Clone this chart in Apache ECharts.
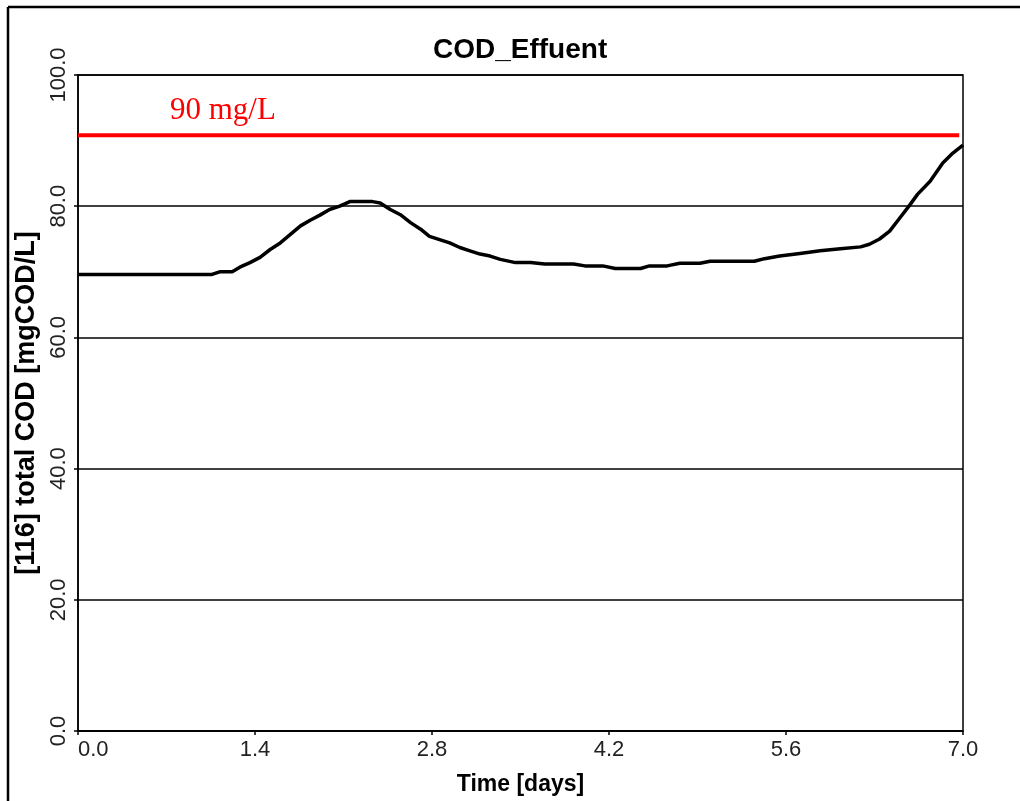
<!DOCTYPE html>
<html>
<head>
<meta charset="utf-8">
<script src="https://cdn.jsdelivr.net/npm/echarts@6/dist/echarts.min.js"></script>
<style>
  html, body { margin: 0; padding: 0; background: #fff; }
  #chart { width: 1020px; height: 801px; }
</style>
</head>
<body>
<div id="chart"></div>
<script>
// time in days, effluent COD in mgCOD/L
var timeDays = [0.00, 0.33, 0.65, 0.96, 1.06, 1.12, 1.22, 1.28, 1.36, 1.44, 1.52, 1.60, 1.68, 1.76, 1.84, 1.91, 1.99,
  2.07, 2.15, 2.23, 2.33, 2.39, 2.47, 2.55, 2.63, 2.71, 2.78, 2.86, 2.94, 3.02, 3.10, 3.18, 3.26, 3.34, 3.46, 3.58,
  3.69, 3.92, 4.01, 4.15, 4.25, 4.45, 4.52, 4.66, 4.76, 4.92, 5.00, 5.35, 5.43, 5.55, 5.71, 5.87, 6.03, 6.19, 6.26,
  6.34, 6.42, 6.50, 6.58, 6.64, 6.74, 6.84, 6.92, 7.00];
var codValues = [69.6, 69.6, 69.6, 69.6, 69.6, 70.0, 70.0, 70.7, 71.4, 72.2, 73.4, 74.4, 75.7, 77.0, 77.9, 78.6, 79.5,
  80.0, 80.7, 80.7, 80.7, 80.5, 79.5, 78.7, 77.5, 76.5, 75.4, 74.9, 74.4, 73.7, 73.2, 72.7, 72.4, 71.9, 71.4, 71.4,
  71.2, 71.2, 70.9, 70.9, 70.5, 70.5, 70.9, 70.9, 71.3, 71.3, 71.6, 71.6, 72.0, 72.4, 72.8, 73.2, 73.5, 73.8, 74.2,
  75.0, 76.2, 78.2, 80.2, 81.8, 83.8, 86.6, 88.1, 89.3];

// the red limit line
var limitTime = [0, 6.97];
var limitValue = [90.8, 90.8];
var limitLabel = '90 mg/L';

var chartTitle = 'COD_Effuent';
var xName = 'Time [days]';
var yName = '[116] total COD [mgCOD/L]';

function pairs(xs, ys) {
  var out = [];
  for (var i = 0; i < xs.length; i++) out.push([xs[i], ys[i]]);
  return out;
}

var chart = echarts.init(document.getElementById('chart'));
var option = {
  animation: false,
  backgroundColor: '#fff',
  title: {
    text: chartTitle,
    left: 428,
    top: 31,
    textStyle: { fontFamily: 'Liberation Sans', fontWeight: 'bold', fontSize: 28, color: '#000' }
  },
  grid: {
    left: 78, top: 75, right: 57, bottom: 62,
    show: true, borderColor: '#000', borderWidth: 1.5, backgroundColor: 'transparent'
  },
  xAxis: {
    type: 'value',
    min: 0, max: 7, interval: 1.4,
    name: xName,
    nameLocation: 'middle',
    nameGap: 42,
    nameTextStyle: { fontFamily: 'Liberation Sans', fontWeight: 'bold', fontSize: 23, color: '#000' },
    axisLine: { lineStyle: { color: '#000', width: 1.5 } },
    axisTick: { show: true, length: 4, lineStyle: { color: '#000', width: 1.5 } },
    axisLabel: {
      fontFamily: 'Liberation Sans', fontSize: 22, color: '#222', margin: 8,
      alignMinLabel: 'left',
      formatter: function (v) { return v.toFixed(1); }
    },
    splitLine: { show: false }
  },
  yAxis: {
    type: 'value',
    min: 0, max: 100, interval: 20,
    name: yName,
    nameLocation: 'middle',
    nameGap: 32,
    nameTextStyle: { fontFamily: 'Liberation Sans', fontWeight: 'bold', fontSize: 27, color: '#000' },
    axisLine: { lineStyle: { color: '#000', width: 1.5 } },
    axisTick: { show: true, length: 4, lineStyle: { color: '#000', width: 1.5 } },
    axisLabel: {
      rotate: 90, fontFamily: 'Liberation Sans', fontSize: 22, color: '#222', margin: 8,
      formatter: function (v) { return v.toFixed(1); }
    },
    splitLine: { show: true, lineStyle: { color: '#000', width: 1.6 } }
  },
  series: [
    {
      name: 'limit',
      type: 'line',
      data: pairs(limitTime, limitValue),
      showSymbol: false,
      lineStyle: { color: '#ff0000', width: 4 },
      z: 3
    },
    {
      name: 'COD_Effuent',
      type: 'line',
      data: pairs(timeDays, codValues),
      showSymbol: false,
      lineStyle: { color: '#000', width: 3.5 },
      z: 4
    }
  ],
  graphic: [
    { type: 'line', shape: { x1: 8, y1: 7, x2: 8, y2: 801 }, style: { stroke: '#000', lineWidth: 2.5 } },
    { type: 'line', shape: { x1: 8, y1: 7, x2: 1020, y2: 7 }, style: { stroke: '#000', lineWidth: 2.5 } },
    {
      type: 'text', left: 170, top: 95,
      style: { text: limitLabel, fill: '#ff0000', font: '31px "Liberation Serif"' }
    }
  ]
};
chart.setOption(option);
</script>
</body>
</html>
